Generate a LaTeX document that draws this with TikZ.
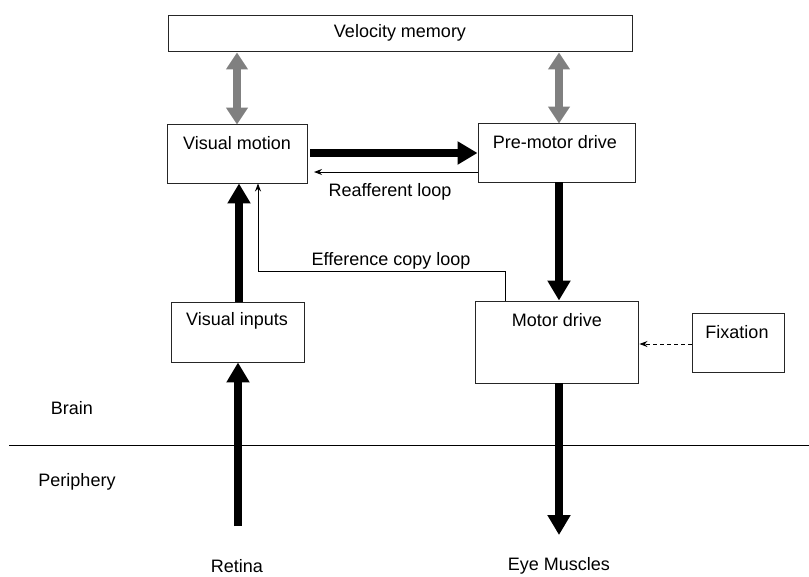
\documentclass[tikz,border=0pt]{standalone}
\usepackage{fontspec}
\setmainfont{Liberation Sans}
\usetikzlibrary{arrows.meta}
\begin{document}
\begin{tikzpicture}[x=1pt,y=-1pt,
  box/.style={draw=black!85,line width=0.9pt,inner sep=0pt},
  lbl/.style={inner sep=0pt,font=\fontsize{18}{20}\selectfont},
  thick arrow/.style={line width=8pt,-{Triangle[length=20pt,width=22pt]}},
  gray arrow/.style={draw=gray,line width=8pt,{Triangle[length=17pt,width=21pt]}-{Triangle[length=17pt,width=21pt]}},
  thin arrow/.style={line width=1pt,-{Stealth[length=8pt,width=6pt]}}]
\useasboundingbox (0,0) rectangle (809,576);
% boxes
\node[box,minimum width=464pt,minimum height=36pt] (vel) at (400,33) {};
\node[box,minimum width=140pt,minimum height=59pt] (vm) at (237,153.5) {};
\node[box,minimum width=157pt,minimum height=59pt] (pmd) at (556.5,152.5) {};
\node[box,minimum width=133pt,minimum height=60pt] (vi) at (237.5,332) {};
\node[box,minimum width=163pt,minimum height=82pt] (md) at (556.5,342) {};
\node[box,minimum width=92pt,minimum height=59pt] (fix) at (738,342.5) {};
% texts
\node[lbl] (velt) at (400,33) {Velocity memory};
\node[lbl] (vmt) at (237,143) {Visual motion};
\node[lbl] (pmdt) at (555,142) {Pre-motor drive};
\node[lbl] (vit) at (237,321) {Visual inputs};
\node[lbl] (mdt) at (557,320) {Motor drive};
\node[lbl] (fixt) at (737,332) {Fixation};
\node[lbl] (reaf) at (390,192) {Reafferent loop};
\node[lbl] (effc) at (391,261) {Efference copy loop};
\node[lbl] (brain) at (72,408) {Brain};
\node[lbl] (peri) at (77,482) {Periphery};
\node[lbl] (ret) at (237,566) {Retina};
\node[lbl] (eye) at (559,566) {Eye Muscles};
% coordinates
\coordinate (retstart) at (238,526);
\coordinate (eyeend) at (559,535);
\coordinate (lineL) at (9,445);
\coordinate (lineR) at (809,445);
\coordinate (effA) at (505,271);
\coordinate (effB) at (258,271);
% connectors
\draw[gray arrow] (vel.south -| 237,0) ++(0,1) -- ([yshift=-1pt]vm.north -| 237,0);
\draw[gray arrow] (vel.south -| 559,0) ++(0,1) -- ([yshift=-1pt]pmd.north -| 559,0);
\draw[thick arrow] (310,153) -- (pmd.west |- 0,153);
\draw[thin arrow] (pmd.west |- 0,172) -- (314,172);
\draw[thick arrow] (pmd.south -| 559,0) -- (md.north -| 559,0);
\draw[thick arrow] (vi.north -| 239,0) -- (vm.south -| 239,0);
\draw[thick arrow] (retstart) -- (vi.south -| 238,0);
\draw[thick arrow] (md.south -| 559,0) -- (eyeend);
\draw[thin arrow,line width=0.9pt] (md.north -| effA) -- (effA) -- (effB) -- (vm.south -| effB);
\draw[thin arrow,line width=0.9pt,dashed,dash pattern=on 4pt off 3pt] (fix.west |- 0,344) -- ([xshift=1pt]md.east |- 0,344);
\draw[line width=0.9pt] (lineL) -- (lineR);
\end{tikzpicture}
\end{document}
